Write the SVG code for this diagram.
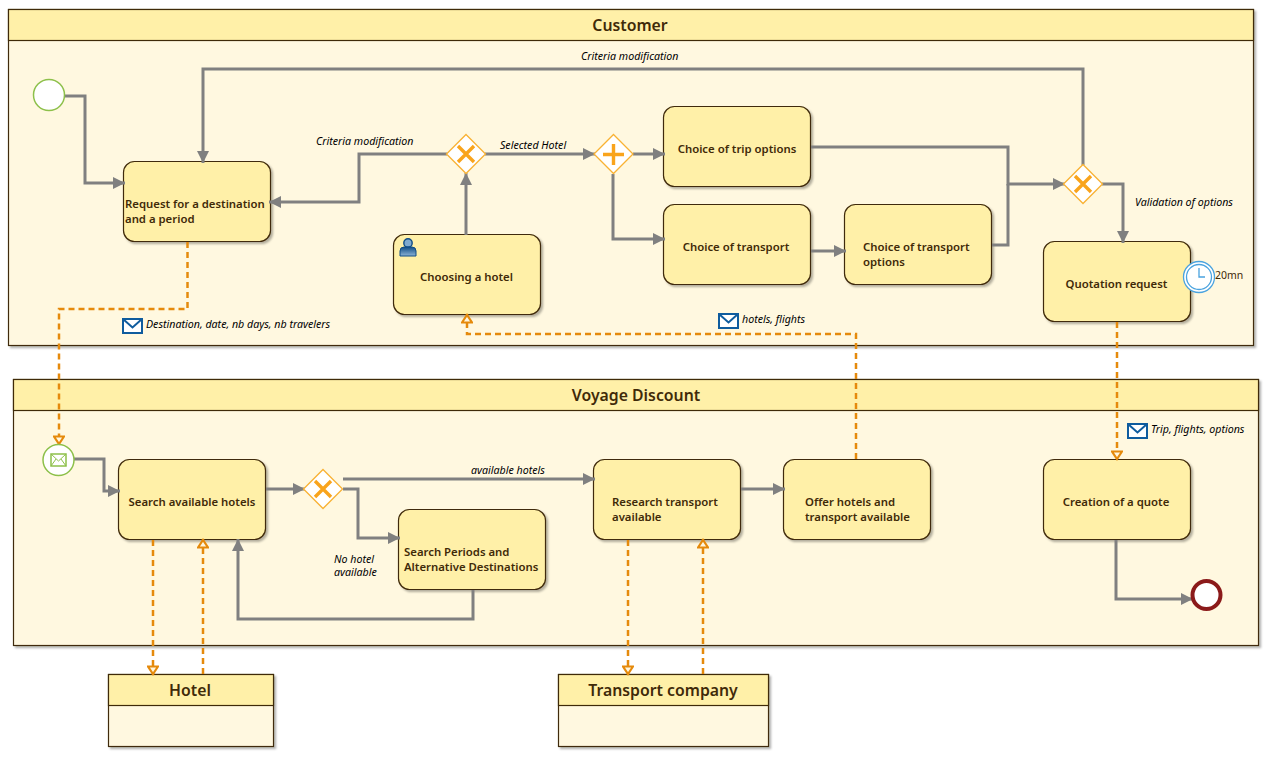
<svg xmlns="http://www.w3.org/2000/svg" width="1270" height="757" viewBox="0 0 1270 757">
<defs>
<marker id="flow" markerUnits="userSpaceOnUse" markerWidth="13" markerHeight="14" refX="12" refY="7" orient="auto"><path d="M0,1 L12,7 L0,13 Z" fill="#808080"/></marker>
<marker id="msg" markerUnits="userSpaceOnUse" markerWidth="12" markerHeight="12" refX="10" refY="6" orient="auto"><path d="M1.500,1 L9,6 L1.500,11 Z" fill="#fff7df" stroke="#e58a0c" stroke-width="2.200"/></marker>
<filter id="sh" x="-5%" y="-5%" width="110%" height="115%"><feDropShadow dx="2" dy="2" stdDeviation="1.200" flood-color="#000" flood-opacity="0.3"/></filter>
<linearGradient id="pers" x1="0" y1="0" x2="0" y2="1"><stop offset="0" stop-color="#0f4c86"/><stop offset="1" stop-color="#8db4d6"/></linearGradient>
<g id="env"><rect x="1" y="1" width="19" height="14" fill="#fff" stroke="#0f5c9e" stroke-width="2"/><path d="M1,1 L10.500,9.500 L20,1" fill="none" stroke="#0f5c9e" stroke-width="2"/></g>
<g id="xg"><path d="M0,-19.500 L19.500,0 L0,19.500 L-19.500,0 Z" fill="#fff" stroke="#f9b233" stroke-width="1.300"/><path d="M-8,-8 L8,8 M8,-8 L-8,8" stroke="#f9a41c" stroke-width="3.400" fill="none"/></g>
</defs>
<style>
.pool{fill:#fff8e0;stroke:#3f2a08;stroke-width:1.200;filter:url(#sh)}
.hd{fill:#fff0a8;stroke:#3f2a08;stroke-width:1.200}
.task{fill:#fff0a8;stroke:#3f2a08;stroke-width:1.200;filter:url(#sh)}
.t{font-family:"Noto Sans","Open Sans",sans-serif;font-weight:600;font-size:11.350px;fill:#3f2a08}
.h{font-family:"Noto Sans","Open Sans",sans-serif;font-weight:600;font-size:15.800px;fill:#3f2a08;text-anchor:middle}
.l{font-family:"Noto Sans","Open Sans",sans-serif;font-style:italic;font-size:10.650px;fill:#000}
.f{fill:none;stroke:#808080;stroke-width:3;marker-end:url(#flow)}
.p{fill:none;stroke:#808080;stroke-width:3}
.m{fill:none;stroke:#e58a0c;stroke-width:2.500;stroke-dasharray:6 4;marker-end:url(#msg)}
</style>
<g id="pool-customer"><rect class="pool" x="8.500" y="9.500" width="1245" height="336"/><rect class="hd" x="8.500" y="9.500" width="1245" height="31"/><text class="h" x="630" y="31">Customer</text></g>
<g id="pool-voyage"><rect class="pool" x="13.500" y="379.500" width="1245" height="266"/><rect class="hd" x="13.500" y="379.500" width="1245" height="31"/><text class="h" x="636" y="401">Voyage Discount</text></g>
<g id="pool-hotel"><rect class="pool" x="108.500" y="674.500" width="165" height="72"/><rect class="hd" x="108.500" y="674.500" width="165" height="31"/><text class="h" x="190" y="696">Hotel</text></g>
<g id="pool-transport"><rect class="pool" x="558.500" y="674.500" width="210" height="72"/><rect class="hd" x="558.500" y="674.500" width="210" height="31"/><text class="h" x="663" y="696">Transport company</text></g>

<g id="task-request"><rect class="task" x="123.500" y="161.500" width="147" height="80" rx="11"/><text class="t" x="125" y="208">Request for a destination</text><text class="t" x="125" y="223">and a period</text></g>
<g id="task-choosing"><rect class="task" x="393.500" y="234.500" width="147" height="80" rx="11"/><text class="t" x="466.500" y="281" text-anchor="middle">Choosing a hotel</text>
<circle cx="408" cy="243" r="4.200" fill="#7ea9cf" stroke="#0f4c86" stroke-width="1.400"/><path d="M400,256 L400,251 Q400,247 404,247 L412,247 Q416,247 416,251 L416,256 Z" fill="url(#pers)" stroke="#0f4c86"/></g>
<g id="task-trip"><rect class="task" x="663.500" y="106.500" width="147" height="80" rx="11"/><text class="t" x="737" y="153" text-anchor="middle">Choice of trip options</text></g>
<g id="task-transport"><rect class="task" x="663.500" y="204.500" width="147" height="80" rx="11"/><text class="t" x="736" y="251" text-anchor="middle">Choice of transport</text></g>
<g id="task-transport-options"><rect class="task" x="844.500" y="204.500" width="147" height="80" rx="11"/><text class="t" x="863" y="251">Choice of transport</text><text class="t" x="863" y="266">options</text></g>
<g id="task-quotation"><rect class="task" x="1043.500" y="241.500" width="147" height="80" rx="11"/><text class="t" x="1116.500" y="288" text-anchor="middle">Quotation request</text></g>
<g id="task-search"><rect class="task" x="118.500" y="459.500" width="147" height="80" rx="11"/><text class="t" x="192" y="506" text-anchor="middle">Search available hotels</text></g>
<g id="task-periods"><rect class="task" x="398.500" y="509.500" width="147" height="80" rx="11"/><text class="t" x="404" y="556">Search Periods and</text><text class="t" x="404" y="571">Alternative Destinations</text></g>
<g id="task-research"><rect class="task" x="593.500" y="459.500" width="147" height="80" rx="11"/><text class="t" x="612" y="506">Research transport</text><text class="t" x="612" y="521">available</text></g>
<g id="task-offer"><rect class="task" x="783.500" y="459.500" width="147" height="80" rx="11"/><text class="t" x="805" y="506">Offer hotels and</text><text class="t" x="805" y="521">transport available</text></g>
<g id="task-creation"><rect class="task" x="1043.500" y="459.500" width="147" height="80" rx="11"/><text class="t" x="1116" y="506" text-anchor="middle">Creation of a quote</text></g>

<g id="connectors">
<path class="f" d="M64,96 H85 V183 H125"/>
<path class="f" d="M1083,165 V69 H203 V163"/>
<path class="f" d="M447,154 H359 V202 H269"/>
<path class="f" d="M466,235 V173"/>
<path class="f" d="M485,154 H595"/>
<path class="f" d="M633,154 H665"/>
<path class="f" d="M613,174 V239 H665"/>
<path class="f" d="M811,147 H1008 V184 H1065"/>
<path class="f" d="M811,251 H846"/>
<path class="p" d="M992,245 H1008 V184"/>
<path class="f" d="M1102,184 H1123 V243"/>
<path class="f" d="M74,459 H104 V491 H120"/>
<path class="f" d="M266,489 H305"/>
<path class="f" d="M343,479 H595"/>
<path class="f" d="M343,489 H358 V538 H400"/>
<path class="f" d="M473,590 V619 H238 V539"/>
<path class="f" d="M741,489 H785"/>
<path class="f" d="M1116,540 V599 H1193"/>
<path class="m" d="M187.500,242 V309 H59 V445"/>
<path class="m" d="M856,459 V334 H467 V314"/>
<path class="m" d="M1117,322 V460"/>
<path class="m" d="M153,540 V675"/>
<path class="m" d="M203,674 V539"/>
<path class="m" d="M628,540 V675"/>
<path class="m" d="M703,674 V539"/>
</g>

<g id="start-customer"><circle cx="49" cy="95" r="15.500" fill="#fff" stroke="#8dc04a" stroke-width="1.500"/></g>
<g id="start-message"><circle cx="58.500" cy="460" r="15.500" fill="#fff" stroke="#8dc04a" stroke-width="1.500"/><rect x="51" y="454" width="15" height="12" fill="#fff" stroke="#8dc04a" stroke-width="1.500"/><path d="M51,454 L58.500,461 L66,454 M51,466 L56,459 M66,466 L61,459" fill="none" stroke="#8dc04a"/></g>
<g id="end-voyage"><circle cx="1206.500" cy="595" r="14" fill="#fff" stroke="#8b1a1a" stroke-width="4"/></g>
<g id="gw-hotel"><use href="#xg" x="466" y="154"/></g>
<g id="gw-parallel"><path d="M613.500,134.500 L633,154 L613.500,173.500 L594,154 Z" fill="#fff" stroke="#f9b233" stroke-width="1.300"/><path d="M613.500,144 V165 M603,154.500 H624" stroke="#f9a41c" stroke-width="3.400" fill="none"/></g>
<g id="gw-options"><use href="#xg" x="1083" y="184"/></g>
<g id="gw-search"><use href="#xg" x="323" y="489"/></g>
<g id="timer"><circle cx="1199" cy="277" r="15.500" fill="#fff" stroke="#4aa3df" stroke-width="1.300"/><circle cx="1199" cy="277" r="12.500" fill="#fff" stroke="#4aa3df" stroke-width="1.300"/><path d="M1199,268 V277 H1205" fill="none" stroke="#4aa3df" stroke-width="1.300"/><text x="1215" y="279" font-family="Noto Sans,sans-serif" font-size="10.500" fill="#3f2a08">20mn</text></g>

<g id="labels">
<text class="l" x="581" y="60">Criteria modification</text>
<text class="l" x="316" y="145">Criteria modification</text>
<text class="l" x="500" y="149">Selected Hotel</text>
<text class="l" x="1135" y="206">Validation of options</text>
<use href="#env" x="122" y="318"/><text class="l" x="146" y="328">Destination, date, nb days, nb travelers</text>
<use href="#env" x="718" y="313"/><text class="l" x="742" y="323">hotels, flights</text>
<use href="#env" x="1127" y="423"/><text class="l" x="1151" y="433">Trip, flights, options</text>
<text class="l" x="471" y="474">available hotels</text>
<text class="l" x="334" y="563">No hotel</text><text class="l" x="334" y="576">available</text>
</g>
</svg>
